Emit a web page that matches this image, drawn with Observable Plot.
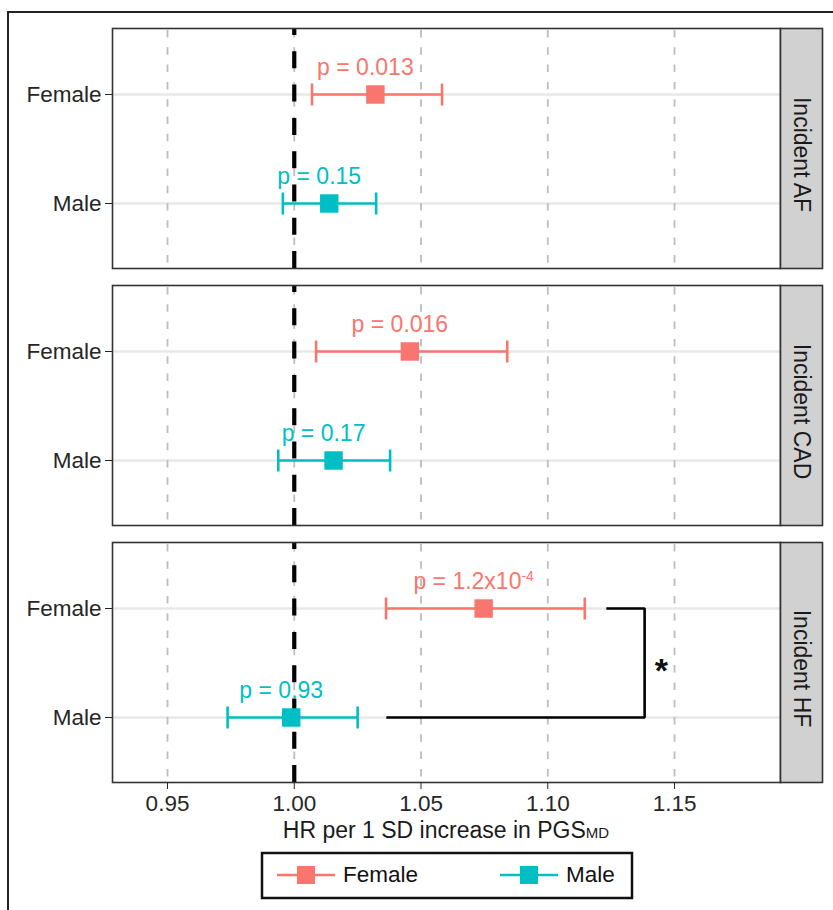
<!DOCTYPE html>
<html>
<head>
<meta charset="utf-8">
<script src="https://cdn.jsdelivr.net/npm/d3@7"></script>
<script src="https://cdn.jsdelivr.net/npm/@observablehq/plot@0.6"></script>
<style>
  body { margin: 0; background: #fff; font-family: "Liberation Sans", Arial, sans-serif; }
  #wrap { position: relative; width: 833px; height: 910px; overflow: hidden; background: #fff; }
  #chart { position: absolute; left: 0; top: 0; }
  #border { position: absolute; left: 7px; top: 11px; width: 900px; height: 950px;
            border-left: 2px solid #222; border-top: 2px solid #222; pointer-events: none; }
  #legend { position: absolute; left: 0; top: 840px; }
</style>
</head>
<body>
<div id="wrap">
  <div id="chart"></div>
  <div id="legend"></div>
  <div id="border"></div>
</div>
<script>
// ---- data ----
const outcome = ["Incident AF", "Incident AF", "Incident CAD", "Incident CAD", "Incident HF", "Incident HF"];
const sex     = ["Female", "Male", "Female", "Male", "Female", "Male"];
const hr      = [1.032, 1.0138, 1.0456, 1.0155, 1.0747, 0.9988];
const lower   = [1.0070, 0.9955, 1.0086, 0.9937, 1.0362, 0.9737];
const upper   = [1.0583, 1.0323, 1.0840, 1.0378, 1.1146, 1.0250];
const pval    = ["0.013", "0.15", "0.016", "0.17", "1.2x10^-4", "0.93"];

const outcomes = ["Incident AF", "Incident CAD", "Incident HF"];
const sexes    = ["Female", "Male"];
const colors   = ["#F8766D", "#00BFC4"];
const xTicks   = [0.95, 1.00, 1.05, 1.10, 1.15];
const xDomain  = [0.9283, 1.1918];
const nullHR   = [1];

// significance bracket (female vs male, incident HF)
const bracketX = [1.1231, 1.1382, 1.1382, 1.0363];
const bracketY = ["Female", "Female", "Male", "Male"];
const bracketFacet = "Incident HF";
const starX = 1.1448;
const starLabel = "*";

const xLabel = "HR per 1 SD increase in PGS";
const xLabelSub = "MD";

// ---- tables ----
const data = hr.map((v, i) => ({
  outcome: outcome[i], sex: sex[i], hr: v, lo: lower[i], hi: upper[i], label: "p = " + pval[i]
}));
const bracket = bracketX.map((x, i) => ({outcome: bracketFacet, x, y: bracketY[i]}));
const star = [{outcome: bracketFacet, x: starX, y: "Female", text: starLabel}];

const W = 833, H = 850, mL = 112, mR = 53, mT = 28, mB = 68;
const plotW = W - mL - mR;
const font = "Liberation Sans, Arial, Helvetica, sans-serif";

// vertical error-bar cap drawn as a custom symbol
const capSymbol = {draw(ctx) { ctx.moveTo(0, -11); ctx.lineTo(0, 11); }};

const chart = Plot.plot({
  width: W, height: H,
  marginLeft: mL, marginRight: mR, marginTop: mT, marginBottom: mB,
  style: {fontFamily: font, background: "white", overflow: "visible"},
  x: {domain: xDomain},
  y: {type: "point", domain: sexes, padding: 0.6},
  fy: {domain: outcomes, paddingInner: 0.06615, paddingOuter: 0, axis: null},
  color: {domain: sexes, range: colors},
  marks: [
    Plot.gridY({stroke: "#e8e8e8", strokeOpacity: 1, strokeWidth: 2.6}),
    Plot.gridX({ticks: xTicks, stroke: "#bdbdbd", strokeOpacity: 1, strokeWidth: 1.8,
                strokeDasharray: "7.5,9.8", strokeDashoffset: 15.3}),
    Plot.ruleX(nullHR, {stroke: "#000", strokeWidth: 4.2, strokeDasharray: "17,16.3", strokeDashoffset: 10}),
    Plot.link(data, {fy: "outcome", y1: "sex", y2: "sex", x1: "lo", x2: "hi", stroke: "sex", strokeWidth: 2.6}),
    Plot.dot(data, {fy: "outcome", y: "sex", x: "lo", stroke: "sex", fill: "none", strokeWidth: 2.6, symbol: capSymbol}),
    Plot.dot(data, {fy: "outcome", y: "sex", x: "hi", stroke: "sex", fill: "none", strokeWidth: 2.6, symbol: capSymbol}),
    Plot.dot(data, {fy: "outcome", x: "hr", y: "sex", fill: "sex", symbol: "square", r: 10.4}),
    Plot.text(data, {fy: "outcome", x: "hr", y: "sex", text: "label", fill: "sex", fontSize: 23,
                     lineAnchor: "bottom", dy: -20, dx: -10}),
    Plot.line(bracket, {fy: "outcome", x: "x", y: "y", stroke: "#000", strokeWidth: 2.6,
                        strokeLinejoin: "miter", strokeLinecap: "butt"}),
    Plot.text(star, {fy: "outcome", x: "x", y: "y", text: "text", fontSize: 34, fontWeight: "bold",
                     fill: "#111", lineAnchor: "bottom", dy: 73}),
    Plot.frame({stroke: "#333", strokeWidth: 1.6}),
    Plot.frame({fill: "#d0d1d0", stroke: "#333", strokeWidth: 1.6, insetLeft: plotW, insetRight: -42}),
    Plot.text(outcomes, {fy: d => d, text: d => d, frameAnchor: "right", textAnchor: "middle",
                         dx: 21, dy: 6, rotate: 90, fontSize: 23, fill: "#1a1a1a"}),
    Plot.axisY({tickSize: 7, tickPadding: 4, fontSize: 22.5, color: "#262626", label: null}),
    Plot.axisX({ticks: xTicks, tickFormat: d3.format(".2f"), tickSize: 7, tickPadding: 6,
                fontSize: 22.5, color: "#262626", label: null})
  ]
});

// superscript exponent in p labels
chart.querySelectorAll("text").forEach(t => {
  if (t.children.length === 0 && t.textContent.includes("^")) {
    const [base, exp] = t.textContent.split("^");
    t.textContent = "";
    const a = document.createElementNS("http://www.w3.org/2000/svg", "tspan");
    a.textContent = base;
    const b = document.createElementNS("http://www.w3.org/2000/svg", "tspan");
    b.textContent = exp;
    b.setAttribute("font-size", "14");
    b.setAttribute("dy", "-8");
    t.appendChild(a); t.appendChild(b);
  }
});

// x axis title with subscript
const svg = d3.select(chart);
const title = svg.append("text")
  .attr("x", mL + plotW / 2).attr("y", 838)
  .attr("text-anchor", "middle").attr("font-size", 23).attr("fill", "#1a1a1a")
  .attr("font-family", font);
title.append("tspan").text(xLabel);
title.append("tspan").attr("font-size", 15).text(xLabelSub);

document.getElementById("chart").appendChild(chart);

// legend (colors from the plot's color scale)
const color = chart.scale("color");
const lg = d3.select("#legend").append("svg").attr("width", 833).attr("height", 70)
  .style("font-family", font);
lg.append("rect").attr("x", 262).attr("y", 13).attr("width", 370).attr("height", 45)
  .attr("fill", "white").attr("stroke", "#111").attr("stroke-width", 2.5);
const items = [{k: sexes[0], x: 277}, {k: sexes[1], x: 500}];
items.forEach(({k, x}) => {
  const c = color.apply(k);
  lg.append("line").attr("x1", x).attr("x2", x + 58).attr("y1", 35).attr("y2", 35)
    .attr("stroke", c).attr("stroke-width", 2.6);
  lg.append("rect").attr("x", x + 20).attr("y", 26).attr("width", 18).attr("height", 18).attr("fill", c);
  lg.append("text").attr("x", x + 66).attr("y", 42).attr("font-size", 22.5).attr("fill", "#111").text(k);
});
</script>
</body>
</html>
